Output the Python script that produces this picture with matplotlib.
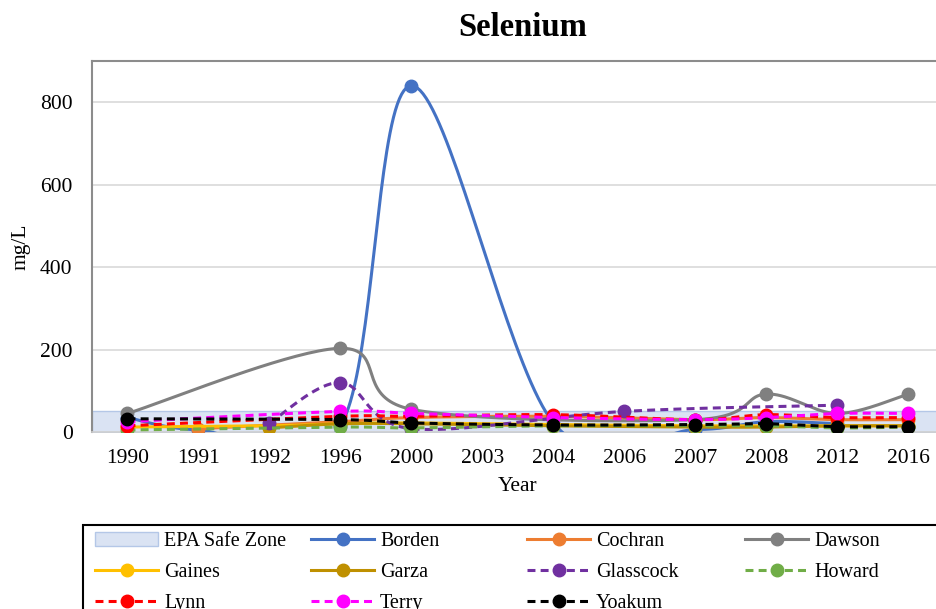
import numpy as np
import matplotlib
matplotlib.use("Agg")
import matplotlib.pyplot as plt
from matplotlib.patches import Patch, Rectangle
from matplotlib.lines import Line2D

plt.rcParams['font.family'] = ['Liberation Serif', 'DejaVu Serif']

years = ["1990", "1991", "1992", "1996", "2000", "2003", "2004",
         "2006", "2007", "2008", "2012", "2016"]
nan = np.nan

borden    = [35, 5, nan, 15, 840, nan, 22, nan, 6, 25, 20, nan]
cochran   = [nan, 8, nan, 25, 35, nan, 38, nan, 30, 35, 30, 30]
dawson    = [45, nan, nan, 203, 55, nan, nan, nan, 30, 92, 45, 92]
gaines    = [12, nan, 15, 20, 22, nan, 18, nan, 15, 15, 15, 15]
garza     = [nan, nan, 10, 20, 20, nan, 15, nan, 12, 12, 15, 15]
glasscock = [nan, nan, 22, 120, 8, nan, nan, 50, nan, nan, 65, nan]
howard    = [5, nan, nan, 12, 10, nan, 15, nan, 15, 15, 10, 12]
lynn      = [15, nan, nan, 38, 38, nan, 42, nan, 30, 42, 35, 35]
terry     = [25, nan, nan, 50, 45, nan, 35, nan, 30, 35, 45, 45]
yoakum    = [32, nan, nan, 30, 22, nan, 17, nan, 18, 20, 13, 13]

epa_limit = 50

series = [
    ("Borden", borden, "#4472C4", "-"),
    ("Cochran", cochran, "#ED7D31", "-"),
    ("Dawson", dawson, "#808080", "-"),
    ("Gaines", gaines, "#FFC000", "-"),
    ("Garza", garza, "#BF9000", "-"),
    ("Glasscock", glasscock, "#7030A0", "--"),
    ("Howard", howard, "#70AD47", "--"),
    ("Lynn", lynn, "#FF0000", "--"),
    ("Terry", terry, "#FF00FF", "--"),
    ("Yoakum", yoakum, "#000000", "--"),
]


def smooth(xs, ys, n=40):
    """Bezier smoothing through the points (Excel-style smoothed line)."""
    xs = np.asarray(xs, float)
    ys = np.asarray(ys, float)
    if len(xs) < 2:
        return xs, ys
    px = np.concatenate([[xs[0]], xs, [xs[-1]]])
    py = np.concatenate([[ys[0]], ys, [ys[-1]]])
    out_x, out_y = [], []
    t = np.linspace(0, 1, n)
    for i in range(1, len(px) - 2):
        p0 = np.array([px[i - 1], py[i - 1]])
        p1 = np.array([px[i], py[i]])
        p2 = np.array([px[i + 1], py[i + 1]])
        p3 = np.array([px[i + 2], py[i + 2]])
        c1 = p1 + (p2 - p0) / 6.0
        c2 = p2 - (p3 - p1) / 6.0
        b = ((1 - t) ** 3)[:, None] * p1 + (3 * (1 - t) ** 2 * t)[:, None] * c1 \
            + (3 * (1 - t) * t ** 2)[:, None] * c2 + (t ** 3)[:, None] * p2
        if i > 1:
            b = b[1:]
        out_x.extend(b[:, 0])
        out_y.extend(b[:, 1])
    return np.array(out_x), np.array(out_y)


W, H = 937, 609
fig = plt.figure(figsize=(W / 100, H / 100), dpi=100)
ax = fig.add_axes([92 / W, 1 - 432 / H, 852 / W, 371 / H])

x = np.arange(len(years))
ax.fill_between([-0.5, len(years) - 0.5], 0, epa_limit, facecolor="#DAE3F3",
                edgecolor="#B4C7E7", linewidth=1.0, zorder=1)

lw = 2.2
dash = (0, (2.6, 1.7))
handles = [Patch(facecolor="#DAE3F3", edgecolor="#B4C7E7", label="EPA Safe Zone")]
for k, (name, vals, color, ls) in enumerate(series):
    v = np.asarray(vals, float)
    m = ~np.isnan(v)
    sx, sy = smooth(x[m], v[m])
    style = dash if ls == "--" else "-"
    ax.plot(sx, sy, color=color, lw=lw, linestyle=style, zorder=3 + k,
            solid_capstyle="round")
    ax.plot(x[m], v[m], "o", color=color, markersize=9, zorder=3 + k)
    handles.append(Line2D([], [], color=color, lw=lw, linestyle=style,
                          marker="o", markersize=9, label=name))

ax.set_xlim(-0.5, len(years) - 0.5)
ax.set_ylim(0, 900)
ax.set_yticks([0, 200, 400, 600, 800])
ax.set_xticks(x)
ax.set_xticklabels(years)
ax.tick_params(axis="both", length=0, labelsize=15.5, colors="black")
ax.tick_params(axis="y", pad=14)
ax.tick_params(axis="x", pad=12)
ax.yaxis.grid(True, color="#D9D9D9", lw=1.2, zorder=0)
ax.set_axisbelow(True)
for side in ("left", "top", "right"):
    ax.spines[side].set_color("#8C8C8C")
    ax.spines[side].set_linewidth(1.5)
ax.spines["bottom"].set_color("#D0D0D0")
ax.spines["bottom"].set_linewidth(1.2)

ax.set_xlabel("Year", fontsize=15.5, labelpad=7)
ax.set_ylabel("mg/L", fontsize=15.5, labelpad=7)
fig.text(523 / W, 1 - 27 / H, "Selenium", ha="center", va="center",
         fontsize=23.5, fontweight="bold")

# Legend: framed box with four evenly spaced columns
fig.add_artist(Rectangle((83 / W, -0.1), 1.0, 1.1 - 525 / H, transform=fig.transFigure,
                         facecolor="white", edgecolor="black", lw=1.5, zorder=5))
col_x = [95, 311, 527, 745]
for c in range(4):
    hs = handles[c::4]
    leg = fig.legend(handles=hs, loc="upper left",
                     bbox_to_anchor=(col_x[c] / W, 1 - 532 / H),
                     frameon=False, fontsize=14.5, handlelength=3.15,
                     handletextpad=0.28, labelspacing=0.6,
                     borderpad=0.0, borderaxespad=0.0)
    leg.set_zorder(6)

fig.savefig("out.png", dpi=100)
